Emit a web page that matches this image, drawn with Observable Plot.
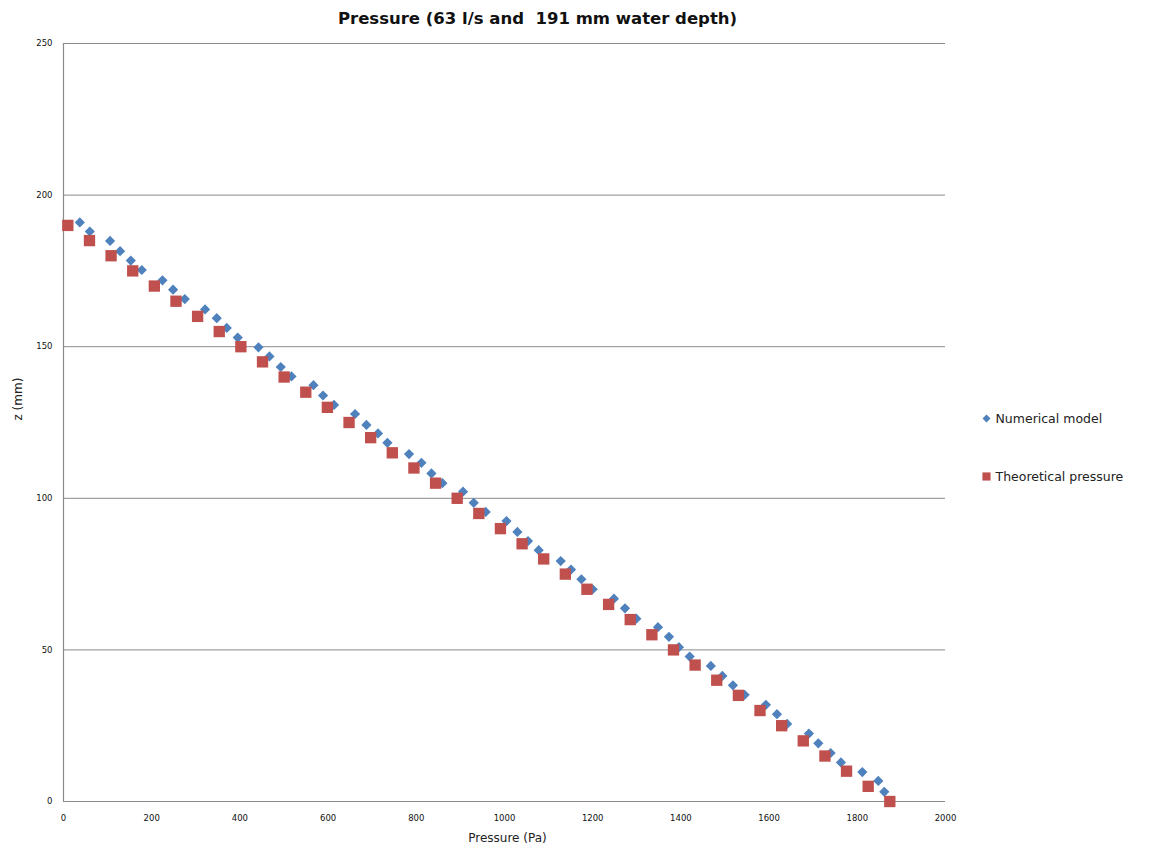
<!DOCTYPE html>
<html>
<head>
<meta charset="utf-8">
<script src="https://cdn.jsdelivr.net/npm/d3@7"></script>
<script src="https://cdn.jsdelivr.net/npm/@observablehq/plot@0.6"></script>
<style>
  body { margin: 0; background: #fff; }
  #chart svg { display: block; }
</style>
</head>
<body>
<div id="chart"></div>
<script>
// Numerical model: pressure (Pa) against height z (mm)
const numericalZ = [191.0,188.0,184.9,181.5,178.4,175.3,171.9,168.8,165.7,162.3,159.4,156.2,153.0,149.8,146.8,143.3,140.2,137.3,133.9,130.8,127.8,124.2,121.4,118.3,114.6,111.7,108.2,105.0,102.2,98.5,95.5,92.5,88.9,85.9,82.9,79.3,76.5,73.3,70.0,66.9,63.7,60.3,57.5,54.3,50.9,47.8,44.7,41.4,38.3,35.2,31.9,28.8,25.6,22.4,19.2,16.0,12.9,9.7,6.8,3.2];
const numericalP = [37.0,59.6,105.6,128.3,152.6,177.5,224.4,248.5,275.0,321.0,347.5,370.2,395.1,442.1,467.0,492.6,516.9,566.8,588.5,613.5,661.1,686.9,713.2,734.5,783.5,811.6,834.3,859.2,905.9,930.2,957.4,1004.5,1029.2,1053.3,1077.5,1127.4,1150.8,1174.3,1200.0,1248.2,1273.2,1299.0,1348.0,1372.9,1395.6,1419.9,1467.9,1494.0,1518.0,1544.5,1592.8,1617.8,1640.9,1690.3,1711.6,1739.5,1762.9,1811.4,1847.6,1861.2];

// Theoretical hydrostatic pressure at 5 mm steps
const theoreticalZ = [190,185,180,175,170,165,160,155,150,145,140,135,130,125,120,115,110,105,100,95,90,85,80,75,70,65,60,55,50,45,40,35,30,25,20,15,10,5,0];
const theoreticalP = [9.8,58.9,107.9,157.0,206.0,255.1,304.1,353.2,402.2,451.3,500.3,549.4,598.4,647.5,696.5,745.6,794.6,843.7,892.7,941.8,990.8,1039.9,1088.9,1138.0,1187.0,1236.1,1285.1,1334.2,1383.2,1432.3,1481.3,1530.4,1579.4,1628.5,1677.5,1726.6,1775.6,1824.7,1873.7];

const xTicks = [0,200,400,600,800,1000,1200,1400,1600,1800,2000];
const yTicks = [0,50,100,150,200,250];

const seriesNames = ["Numerical model", "Theoretical pressure"];
const titleText = "Pressure (63 l/s and  191 mm water depth)";
const xLabel = "Pressure (Pa)";
const yLabel = "z (mm)";

const numerical = numericalZ.map((z, i) => ({p: numericalP[i], z}));
const theoretical = theoreticalZ.map((z, i) => ({p: theoreticalP[i], z}));

const blue = "#4f81bd";
const red = "#c0504d";
const gridColor = "#8a8a8a";
const font = "'DejaVu Sans', sans-serif";

const chart = Plot.plot({
  width: 1152,
  height: 850,
  marginLeft: 63,
  marginRight: 207,
  marginTop: 43,
  marginBottom: 49,
  style: {fontFamily: font, fontSize: "8.5px", color: "#111", background: "#fff"},
  x: {domain: [0, 2000]},
  y: {domain: [0, 250]},
  marks: [
    Plot.gridY(yTicks, {stroke: gridColor, strokeOpacity: 1, strokeWidth: 1}),
    Plot.ruleX([0], {stroke: gridColor, strokeWidth: 1.2}),
    Plot.ruleY([0], {stroke: gridColor, strokeWidth: 1.2}),
    Plot.axisX(xTicks, {tickSize: 0, tickPadding: 13, tickFormat: d3.format("d"), label: null}),
    Plot.axisY(yTicks, {tickSize: 0, tickPadding: 11, tickFormat: d3.format("d"), label: null}),
    Plot.dot(numerical, {x: "p", y: "z", symbol: "diamond2", r: 4.6, fill: blue, stroke: "none"}),
    Plot.dot(theoretical, {x: "p", y: "z", symbol: "square", r: 6.4, fill: red, stroke: "none"}),
    // chart title
    Plot.text([titleText], {frameAnchor: "top", dx: 33, dy: -25, lineAnchor: "middle", fontSize: 16.5, fontWeight: "bold", fill: "#111"}),
    // axis titles
    Plot.text([xLabel], {frameAnchor: "bottom", dx: 3, dy: 37, lineAnchor: "middle", fontSize: 12, fill: "#222"}),
    Plot.text([yLabel], {frameAnchor: "left", dx: -45, dy: -2, rotate: -90, fontSize: 12, fill: "#222"}),
    // legend
    Plot.dot([seriesNames[0]], {frameAnchor: "right", dx: 41, dy: -4, symbol: "diamond2", r: 3.6, fill: blue}),
    Plot.text([seriesNames[0]], {frameAnchor: "right", dx: 50, dy: -4, textAnchor: "start", fontSize: 12.5, fill: "#222"}),
    Plot.dot([seriesNames[1]], {frameAnchor: "right", dx: 41, dy: 54, symbol: "square", r: 4.6, fill: red}),
    Plot.text([seriesNames[1]], {frameAnchor: "right", dx: 50, dy: 54, textAnchor: "start", fontSize: 12.5, fill: "#222"})
  ]
});

document.getElementById("chart").appendChild(chart);
</script>
</body>
</html>
